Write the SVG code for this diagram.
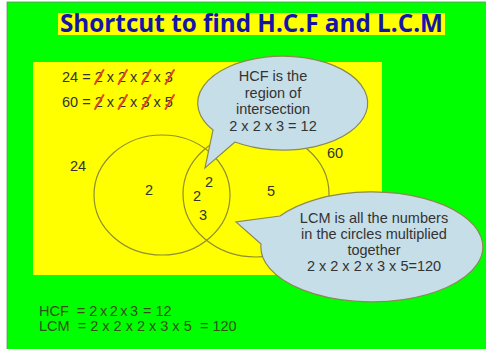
<svg xmlns="http://www.w3.org/2000/svg" width="486" height="349" viewBox="0 0 486 349">
  <style>
    .t { font-family: "Liberation Sans", Arial, sans-serif; font-size: 14.5px; fill: #333333; }
    .c { text-anchor: middle; }
    .venn { fill: none; stroke: #8E8E30; stroke-width: 1.2; }
    .bubble { fill: #C6DEE8; stroke: #8A8A52; stroke-width: 1.2; }
    .slash { stroke: #E4461C; stroke-width: 2; stroke-linecap: round; }
    .foot { font-family: "Liberation Sans", Arial, sans-serif; font-size: 14.5px; fill: #34501A; white-space: pre; }
  </style>
  <rect x="0" y="0" width="486" height="349" fill="#FFFFFF"/>
  <rect x="7" y="2" width="480" height="348" fill="#00FF00" stroke="#6A8A6A" stroke-width="0.8"/>

  <g id="title">
    <rect x="58" y="13" width="387" height="22" fill="#FFFF00"/>
    <text x="251.5" y="32" text-anchor="middle" font-family="'Open Sans', 'Liberation Sans', sans-serif" font-weight="bold" font-size="25" fill="#1414A8" textLength="383" lengthAdjust="spacingAndGlyphs">Shortcut to find H.C.F and L.C.M</text>
  </g>

  <g id="panel">
    <rect x="33" y="62" width="349" height="213" fill="#FFFF00"/>
  </g>

  <g id="factor-24">
    <text class="t" x="62" y="82">24 = 2 x 2 x 2 x 3</text>
    <line class="slash" x1="95" y1="84" x2="103.5" y2="70"/>
    <line class="slash" x1="118.5" y1="84" x2="127" y2="70"/>
    <line class="slash" x1="142" y1="84" x2="150.5" y2="70"/>
    <line class="slash" x1="165.5" y1="84" x2="174" y2="70"/>
  </g>
  <g id="factor-60">
    <text class="t" x="62" y="107">60 = 2 x 2 x 3 x 5</text>
    <line class="slash" x1="95" y1="109" x2="103.5" y2="95"/>
    <line class="slash" x1="118.5" y1="109" x2="127" y2="95"/>
    <line class="slash" x1="142" y1="109" x2="150.5" y2="95"/>
    <line class="slash" x1="165.5" y1="109" x2="174" y2="95"/>
  </g>

  <g id="set-24">
    <ellipse class="venn" cx="162" cy="195" rx="68" ry="60"/>
    <text class="t c" x="78" y="171">24</text>
    <text class="t c" x="149" y="195">2</text>
  </g>
  <g id="set-60">
    <ellipse class="venn" cx="256" cy="194" rx="73" ry="63"/>
    <text class="t c" x="335" y="158">60</text>
    <text class="t c" x="271" y="196">5</text>
  </g>
  <g id="intersection">
    <text class="t c" x="209" y="187">2</text>
    <text class="t c" x="197" y="201">2</text>
    <text class="t c" x="203" y="220">3</text>
  </g>

  <g id="hcf-callout">
    <path class="bubble" d="M235,142 L205,168 L213,130 A85,47 0 1 1 235,142 Z"/>
    <text class="t c" x="273" y="81">HCF is the</text>
    <text class="t c" x="273" y="97.5">region of</text>
    <text class="t c" x="273" y="114">intersection</text>
    <text class="t c" x="273" y="130.5">2 x 2 x 3 = 12</text>
  </g>

  <g id="lcm-callout">
    <path class="bubble" d="M280,216 L236,222 L261,244 A111,55 0 1 0 280,216 Z"/>
    <text class="t c" x="374" y="222.5">LCM is all the numbers</text>
    <text class="t c" x="374" y="238.5">in the circles multiplied</text>
    <text class="t c" x="374" y="254.5">together</text>
    <text class="t c" x="374" y="270.5">2 x 2 x 2 x 3 x 5=120</text>
  </g>

  <g id="summary">
    <text class="foot" x="39" y="316">HCF  = <tspan word-spacing="-1.5">2 x 2 x 3</tspan><tspan x="143">= 12</tspan></text>
    <text class="foot" x="39" y="331">LCM  = 2 x 2 x 2 x 3 x 5<tspan x="200">= 120</tspan></text>
  </g>

  <g id="connectors"></g>
</svg>
